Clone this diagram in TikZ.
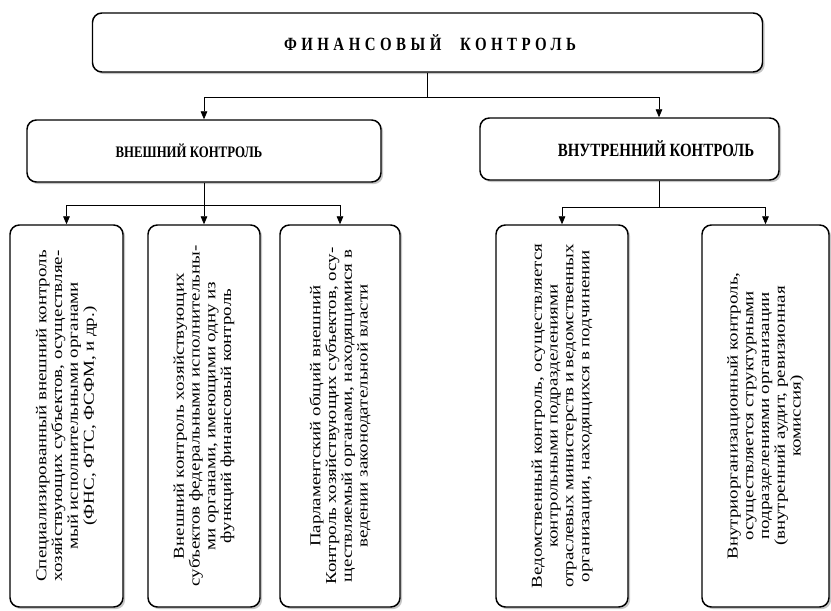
\documentclass[tikz,border=0pt]{standalone}
\usepackage{fontspec}
\usepackage{graphicx}
\setmainfont{Liberation Serif}
\newfontfamily\headfont[LetterSpace=24,FakeStretch=0.8]{Liberation Serif}
\newfontfamily\narrowfont[FakeStretch=0.8]{Liberation Serif}
\usetikzlibrary{positioning,calc,shadows,arrows.meta}

\def\px{0.75pt}
% сжатый по ширине текст для повернутых блоков
\newcommand{\squeezed}[1]{\scalebox{1}[0.8]{\parbox{300pt}{\centering #1}}}
\tikzset{
  box/.style={draw, line width=1.1pt, rounded corners=7pt, fill=white, inner sep=0pt,
    drop shadow={shadow xshift=1.6pt, shadow yshift=-1.6pt, fill=black!50, opacity=.45}},
  arr/.style={-{Triangle[length=6pt,width=5pt]}, line width=0.6pt},
  txt/.style={rotate=90, inner sep=0pt, font=\fontsize{14.2}{14.8}\selectfont},
  headtxt/.style={font=\headfont\bfseries\fontsize{14}{16}\selectfont},
  midtxt/.style={font=\narrowfont\bfseries\fontsize{#1}{16}\selectfont},
  midtxt/.default=12
}

\begin{document}
\begin{tikzpicture}[x=0.75pt, y=-0.75pt]
  \useasboundingbox (0,0) rectangle (831,610);

  % верхний уровень
  \node[box, minimum width=670*\px, minimum height=59*\px] (fin) at (427.5,42.5) {};
  \node[headtxt] (fin-txt) at (430,42.5) {ФИНАНСОВЫЙ\hspace{1em}КОНТРОЛЬ};

  % второй уровень
  \node[box, minimum width=354*\px, minimum height=62*\px] (ext) at (204,151) {};
  \node[midtxt] (ext-txt) at (189,151) {ВНЕШНИЙ КОНТРОЛЬ};
  \node[box, minimum width=299*\px, minimum height=62*\px] (int) at (629.5,149) {};
  \coordinate (intc) at ($(int.center)+(29.5,0)$);
  \node[midtxt=14] (int-txt) at (656,149) {ВНУТРЕННИЙ КОНТРОЛЬ};

  % нижний уровень: имя/центр/ширина/текст
  \foreach \n/\cx/\w/\txt in {
    b1/66.5/113/{Специализированный внешний контроль\\хозяйствующих субъектов, осуществляе-\\мый исполнительными органами\\(ФНС, ФТС, ФСФМ, и др.)},
    b2/204/112/{Внешний контроль хозяйствующих\\субъектов федеральными исполнительны-\\ми органами, имеющими одну из\\функций финансовый контроль},
    b3/340/120/{Парламентский общий внешний\\Контроль хозяйствующих субъектов, осу-\\ществляемый органами, находящимися в\\ведении законодательной власти},
    b4/562/132/{Ведомственный контроль, осуществляется\\контрольными подразделениями\\отраслевых министерств и ведомственных\\организации, находящихся в подчинении},
    b5/765.5/127/{Внутриорганизационный контроль,\\осуществляется структурными\\подразделениями организации\\(внутренний аудит, ревизионная\\комиссия)}
  } {
    \node[box, minimum width=\w*\px, minimum height=382*\px] (\n) at (\cx,416) {};
    \node[txt] (\n-txt) at (\n.center) {\squeezed{\txt}};
  }

  % связи
  \draw[line width=0.6pt] (fin.south) -- ++(0,25) coordinate (split);
  \draw[arr] (split) -| (ext.north);
  \draw[arr] (split) -| (intc |- int.north);

  \draw[line width=0.6pt] (ext.south) -- ++(0,23) coordinate (esplit);
  \foreach \n in {b1,b2,b3} {
    \draw[arr] (esplit) -| (\n.north);
  }
  \draw[line width=0.6pt] (intc |- int.south) -- ++(0,27) coordinate (isplit);
  \foreach \n in {b4,b5} {
    \draw[arr] (isplit) -| (\n.north);
  }
\end{tikzpicture}
\end{document}
